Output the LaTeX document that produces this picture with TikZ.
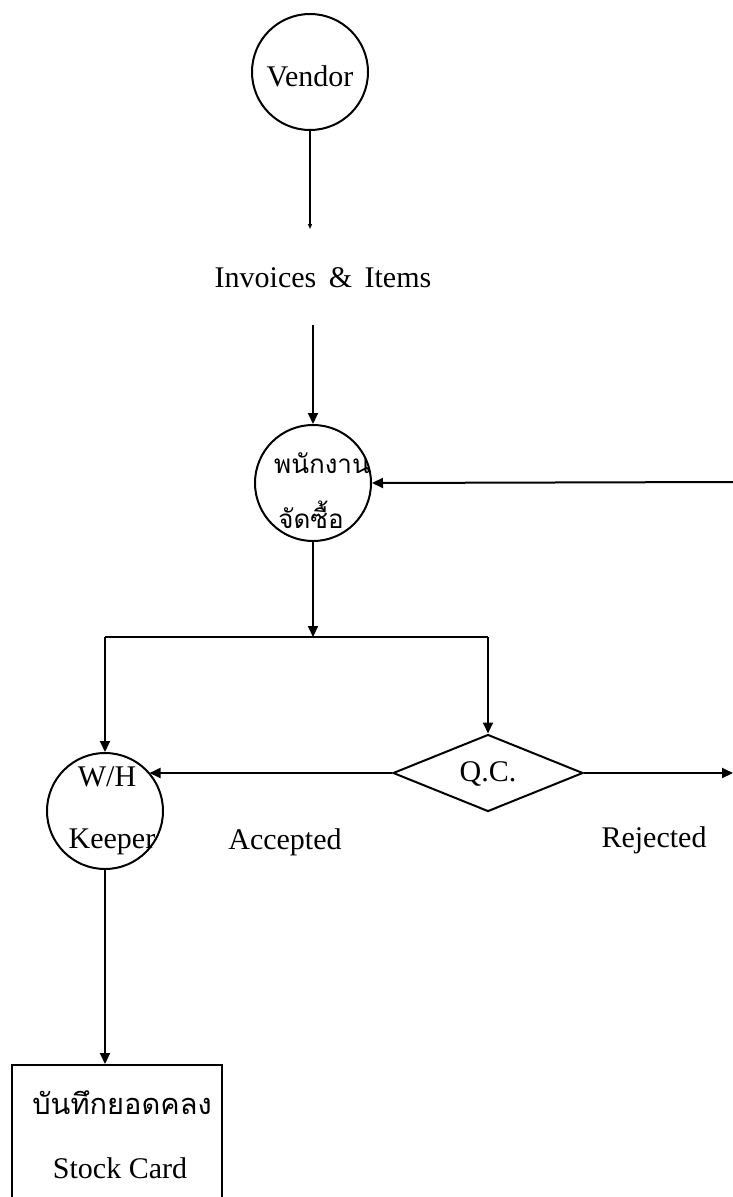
\documentclass[tikz,border=0pt]{standalone}
\usepackage{fontspec}
\setmainfont{Liberation Serif}
\newfontfamily\thai[Script=Thai]{Loma}
\usetikzlibrary{arrows.meta,shapes.geometric}
\tikzset{
  flow/.style={line width=2pt, draw=black},
  tip/.style={-{Triangle[length=11pt,width=10pt]}},
  proc/.style={circle, flow, minimum size=116pt, inner sep=0pt},
  lbl/.style={inner sep=0pt, font=\fontsize{30}{35}\selectfont},
  thlbl/.style={inner sep=0pt, font=\thai\fontsize{26}{30}\selectfont},
}
\begin{document}
\begin{tikzpicture}[x=1pt,y=-1pt]
  \useasboundingbox (0,0) rectangle (733,1197);
  \fill[white] (0,0) rectangle (733,1197);

  % processes and decision
  \node[proc] (vendor) at (310,72) {};
  \node[lbl] (vendortxt) at (310,76) {Vendor};
  \node[lbl] (inv) at (323,278) {Invoices \,\&\, Items};
  \node[proc] (purch) at (313,483) {};
  \node[thlbl] (purch1) at (322,463) {พนักงาน};
  \node[thlbl] (purch2) at (311,515) {จัดซื้อ};
  \node[proc] (wh) at (105,811) {};
  \node[lbl] (wh1) at (107,777) {W/H};
  \node[lbl] (wh2) at (112,842) {Keeper};
  \node[diamond, flow, minimum width=190pt, minimum height=77pt, inner sep=0pt]
    (qc) at (488,773) {};
  \node[lbl] (qctxt) at (488,774) {Q.C.};
  \node[lbl] (acc) at (285,842) {Accepted};
  \node[lbl] (rej) at (654,840) {Rejected};

  % stock card box (runs past the lower edge)
  \node[rectangle, flow, minimum width=210pt, minimum height=200pt, inner sep=0pt]
    (stock) at (117,1165) {};
  \node[thlbl, font=\thai\fontsize{29}{34}\selectfont] (stock1) at (122,1103) {บันทึกยอดคลง};
  \node[lbl] (stock2) at (120,1168) {Stock Card};

  % connector points
  \coordinate (vendorEnd) at (310,229);
  \coordinate (invOut) at (313,325);
  \coordinate (retIn) at (733,482);
  \coordinate (split) at (313,637);
  \coordinate (splitL) at (105,637);
  \coordinate (splitR) at (488,637);
  \coordinate (rejEnd) at (733,773);

  % connectors
  \draw[flow, -{Triangle[length=5pt,width=4pt]}] (vendor.south) -- (vendorEnd);
  \draw[flow, tip] (invOut) -- (purch.north);
  \draw[flow, tip] (retIn) -- (purch.east);
  \draw[flow, tip] (purch.south) -- (split);
  \draw[flow] (splitL) -- (splitR);
  \draw[flow, tip] (splitL) -- (wh.north);
  \draw[flow, tip] (splitR) -- (qc.north);
  \draw[flow, tip] (qc.west) -- (wh.41 |- qc.west);
  \draw[flow, tip] (qc.east) -- (rejEnd);
  \draw[flow, tip] (wh.south) -- (wh.south |- stock.north);
\end{tikzpicture}
\end{document}
